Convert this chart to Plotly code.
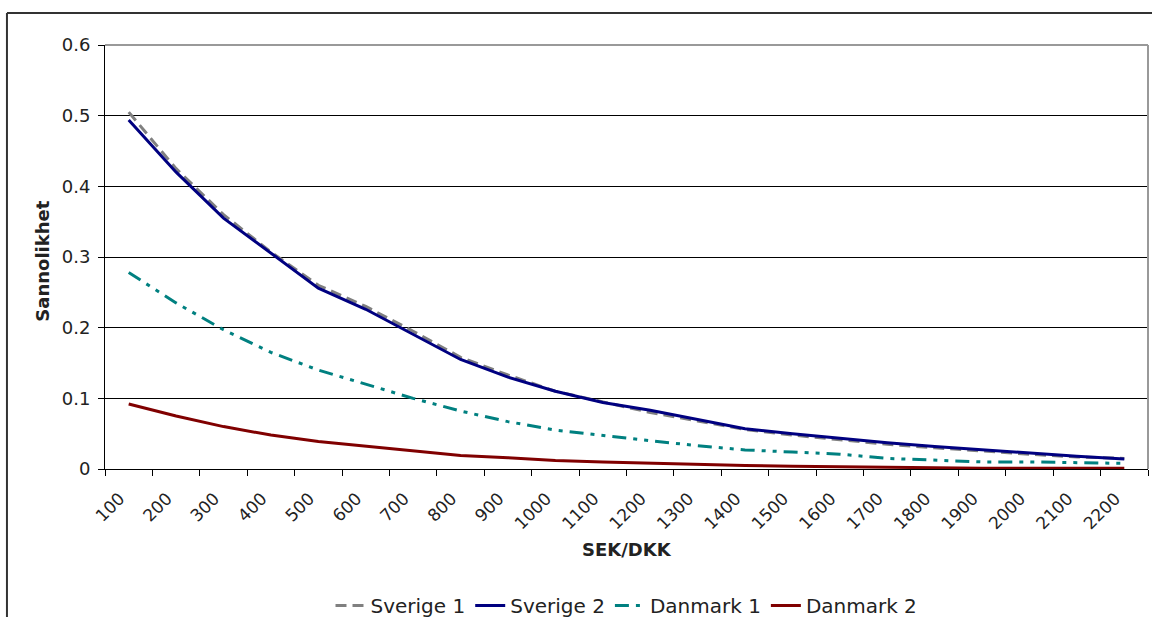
import plotly.graph_objects as go

categories = [str(v) for v in range(100, 2300, 100)]

sverige_1 = [0.505, 0.425, 0.36, 0.307, 0.26, 0.23, 0.195, 0.158, 0.133, 0.11, 0.095,
             0.08, 0.068, 0.056, 0.048, 0.041, 0.035, 0.03, 0.025, 0.021, 0.017, 0.015]
sverige_2 = [0.494, 0.42, 0.355, 0.305, 0.256, 0.226, 0.19, 0.155, 0.13, 0.11, 0.094,
             0.083, 0.07, 0.057, 0.05, 0.043, 0.037, 0.032, 0.027, 0.022, 0.018, 0.014]
danmark_1 = [0.278, 0.235, 0.197, 0.165, 0.14, 0.12, 0.1, 0.082, 0.067, 0.055, 0.047,
             0.04, 0.033, 0.027, 0.024, 0.021, 0.015, 0.012, 0.01, 0.01, 0.009, 0.008]
danmark_2 = [0.092, 0.075, 0.06, 0.048, 0.039, 0.032, 0.025, 0.019, 0.016, 0.012, 0.01,
             0.008, 0.007, 0.005, 0.004, 0.003, 0.002, 0.002, 0.001, 0.001, 0.001, 0.001]

y_ticks = [0, 0.1, 0.2, 0.3, 0.4, 0.5, 0.6]
y_labels = ["0", "0.1", "0.2", "0.3", "0.4", "0.5", "0.6"]

FONT = "DejaVu Sans"

fig = go.Figure()
fig.add_trace(go.Scatter(x=categories, y=sverige_1, name="Sverige 1", mode="lines",
                         line=dict(color="#808080", width=3, dash="11px,6px")))
fig.add_trace(go.Scatter(x=categories, y=sverige_2, name="Sverige 2", mode="lines",
                         line=dict(color="#000080", width=3)))
fig.add_trace(go.Scatter(x=categories, y=danmark_1, name="Danmark 1", mode="lines",
                         line=dict(color="#008080", width=3, dash="14px,7px,4px,7px,4px,7px")))
fig.add_trace(go.Scatter(x=categories, y=danmark_2, name="Danmark 2", mode="lines",
                         line=dict(color="#800000", width=3)))

fig.update_xaxes(
    type="category",
    range=[-0.5, len(categories) - 0.5],
    tickson="boundaries",
    ticks="outside", ticklen=6, tickcolor="black",
    tickangle=-45,
    ticklabelstandoff=12, ticklabelshift=-9,
    showline=True, linecolor="black", linewidth=1,
    showgrid=False,
    automargin=False,
    tickfont=dict(family=FONT, size=17, color="#222222"),
)
fig.update_yaxes(
    range=[0, 0.6],
    tickvals=y_ticks, ticktext=y_labels,
    ticks="outside", ticklen=6, tickcolor="black",
    ticklabelstandoff=4,
    showline=True, linecolor="black", linewidth=1,
    showgrid=True, gridcolor="black", gridwidth=1,
    zeroline=False,
    automargin=False,
    tickfont=dict(family=FONT, size=18, color="#222222"),
)

fig.update_layout(
    width=1152, height=617,
    margin=dict(l=105, r=4, t=45, b=148, autoexpand=False),
    plot_bgcolor="white", paper_bgcolor="white",
    font=dict(family=FONT, size=18, color="#222222"),
    legend=dict(orientation="h", x=0.5, xanchor="center", y=-0.322, yanchor="middle",
                font=dict(family=FONT, size=20, color="#222222"),
                tracegroupgap=0),
    annotations=[
        dict(text="<b>SEK/DKK</b>", xref="paper", yref="paper", x=0.5, y=-0.19,
             yanchor="middle", showarrow=False, font=dict(family=FONT, size=18)),
        dict(text="<b>Sannolikhet</b>", xref="paper", yref="paper", x=-0.06, y=0.49,
             xanchor="center", yanchor="middle", textangle=-90, showarrow=False,
             font=dict(family=FONT, size=18)),
    ],
    shapes=[
        # gray plot-area border on top and right
        dict(type="line", xref="paper", yref="paper", x0=0, x1=1, y0=1, y1=1,
             line=dict(color="#999999", width=2), layer="above"),
        dict(type="line", xref="paper", yref="paper", x0=1, x1=1, y0=0, y1=1,
             line=dict(color="#999999", width=2), layer="above"),
        # outer chart border
        dict(type="line", xref="paper", yref="paper", x0=-0.094, x1=1.1, y0=1.0755, y1=1.0755,
             line=dict(color="#333333", width=2)),
        dict(type="line", xref="paper", yref="paper", x0=-0.094, x1=-0.094, y0=-0.5, y1=1.0755,
             line=dict(color="#333333", width=2)),
    ],
)

fig.write_html("out.html", config={"displayModeBar": False},
               post_script="document.body.style.margin='0px';")
